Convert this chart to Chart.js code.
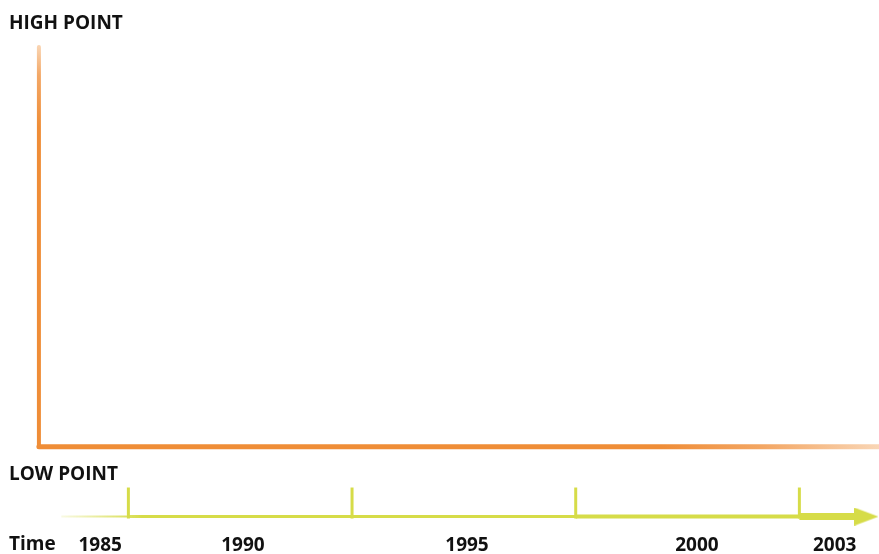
<!DOCTYPE html>
<html>
<head>
<meta charset="utf-8">
<script src="https://cdn.jsdelivr.net/npm/chart.js@4/dist/chart.umd.min.js"></script>
<style>
  html, body { margin: 0; padding: 0; background: #ffffff; }
  #wrap { position: relative; width: 879px; height: 554px; overflow: hidden; background: #ffffff; }
  #c { position: absolute; left: 0; top: 0; }
  .lbl { position: absolute; font-family: "Open Sans", "Noto Sans", sans-serif; font-weight: 700;
         font-size: 19px; line-height: 20px; color: #111; white-space: nowrap; }
</style>
</head>
<body>
<div id="wrap">
  <canvas id="c" width="879" height="554"></canvas>
  <div class="lbl" id="hi" style="left:9px; top:12px;">HIGH POINT</div>
  <div class="lbl" id="lo" style="left:9px; top:463px;">LOW POINT</div>
  <div class="lbl" id="tm" style="left:9px; top:533px;">Time</div>
</div>
<script>
// ---- data ----
const yearLabels   = ['1985', '1990', '1995', '2000', '2003'];   // timeline labels
const tickYears    = [1987, 1992, 1997, 2002];                   // tick marks on the timeline
const timelineSpan = [1985.5, 1987, 1992, 1997, 2002, 2003.5];   // arrow shaft points (start, ticks, end)
const axisYear     = [1985, 2003.8];                             // orange axes: origin year, end year
const levels       = [0, 100];                                   // LOW POINT, HIGH POINT

// ---- layout / style (not data) ----
const ORANGE = '#EF8D37';
const YELLOW = '#D6DC48';
const labelAt = [1986.37, 1989.56, 1994.57, 1999.71, 2002.79];
const timelineLevel = -17.5;
const tickLevel = -14.1;
const X_AXIS_H = 25;

function hGrad(chart, x0, x1, stops) {
  const g = chart.ctx.createLinearGradient(x0, 0, x1, 0);
  stops.forEach(s => g.addColorStop(s[0], s[1]));
  return g;
}

const arrowHead = (() => {
  const cv = document.createElement('canvas');
  cv.width = 24; cv.height = 18;
  const c = cv.getContext('2d');
  c.fillStyle = YELLOW;
  c.beginPath(); c.moveTo(0, 0); c.lineTo(24, 9); c.lineTo(0, 18); c.closePath(); c.fill();
  return cv;
})();

const chart = new Chart(document.getElementById('c'), {
  type: 'line',
  data: {
    datasets: [
      { // vertical orange axis
        data: [{x: axisYear[0], y: levels[0]}, {x: axisYear[0], y: levels[1]}],
        borderWidth: 4,
        borderCapStyle: 'round',
        borderColor: (ctx) => {
          const ch = ctx.chart; if (!ch.chartArea) return ORANGE;
          const y0 = ch.scales.y.getPixelForValue(levels[0]);
          const y1 = ch.scales.y.getPixelForValue(levels[1]);
          const g = ch.ctx.createLinearGradient(0, y0, 0, y1);
          g.addColorStop(0, ORANGE); g.addColorStop(0.8, ORANGE);
          g.addColorStop(0.93, '#F3A867'); g.addColorStop(1, '#F9D3B0');
          return g;
        },
        pointRadius: 0,
        order: 2
      },
      { // horizontal orange axis
        data: [{x: axisYear[0], y: levels[0]}, {x: axisYear[1], y: levels[0]}],
        borderWidth: 5,
        borderCapStyle: 'round',
        borderColor: (ctx) => {
          const ch = ctx.chart; if (!ch.chartArea) return ORANGE;
          const x0 = ch.scales.x.getPixelForValue(axisYear[0]);
          const x1 = ch.scales.x.getPixelForValue(axisYear[1]);
          return hGrad(ch, x0, x1, [[0, ORANGE], [0.74, ORANGE], [0.86, '#F3A663'], [1, '#F9D6B6']]);
        },
        pointRadius: 0,
        order: 2
      },
      { // timeline shaft
        data: timelineSpan.map(x => ({x, y: timelineLevel})),
        borderColor: (ctx) => {
          const ch = ctx.chart; if (!ch.chartArea) return YELLOW;
          const x0 = ch.scales.x.getPixelForValue(timelineSpan[0]);
          const x1 = ch.scales.x.getPixelForValue(timelineSpan[timelineSpan.length - 1]);
          return hGrad(ch, x0, x1, [[0, 'rgba(214,220,72,0.15)'], [0.1, YELLOW], [1, YELLOW]]);
        },
        segment: {
          borderWidth: (s) => [2, 3, 3, 4, 7][s.p0DataIndex] || 3
        },
        borderWidth: 3,
        pointRadius: 0,
        order: 1
      },
      { // tick marks
        type: 'scatter',
        data: tickYears.map(x => ({x, y: tickLevel})),
        pointStyle: 'line',
        rotation: 90,
        pointRadius: 15.5,
        pointBorderWidth: 3,
        pointBorderColor: YELLOW,
        pointBackgroundColor: YELLOW,
        showLine: false,
        order: 0
      },
      { // arrow head
        type: 'scatter',
        data: [{x: timelineSpan[timelineSpan.length - 1], y: timelineLevel}],
        pointStyle: arrowHead,
        pointRadius: 10,
        showLine: false,
        clip: false,
        order: 0
      }
    ]
  },
  options: {
    responsive: false,
    animation: false,
    events: [],
    layout: { padding: 0, autoPadding: false },
    plugins: { legend: { display: false }, tooltip: { enabled: false } },
    scales: {
      x: {
        type: 'linear',
        min: 1984.13,
        max: 2003.78,
        grid: { display: false, drawTicks: false },
        border: { display: false },
        afterBuildTicks: (s) => { s.ticks = labelAt.map(v => ({value: v})); },
        afterFit: (s) => { s.paddingLeft = 0; s.paddingRight = 0; s.height = X_AXIS_H; },
        ticks: {
          autoSkip: false,
          maxRotation: 0,
          padding: 5,
          color: '#111',
          font: { family: '"Open Sans", "Noto Sans", sans-serif', size: 19, weight: 'bold' },
          callback: (v, i) => yearLabels[i]
        }
      },
      y: {
        display: false,
        min: -20.6,
        max: 111.75
      }
    }
  }
});
</script>
</body>
</html>
